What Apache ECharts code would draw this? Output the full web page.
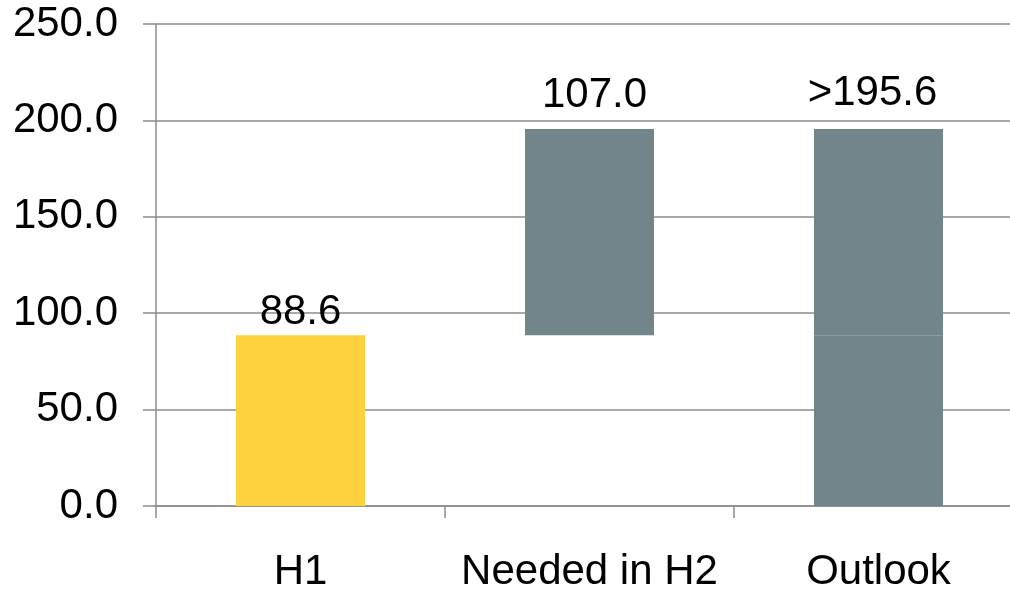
<!DOCTYPE html>
<html>
<head>
<meta charset="utf-8">
<script src="https://cdn.jsdelivr.net/npm/echarts@6/dist/echarts.min.js"></script>
<style>
  html, body { margin: 0; padding: 0; background: #ffffff; }
  #chart { width: 1010px; height: 590px; }
</style>
</head>
<body>
<div id="chart"></div>
<script>
// Waterfall: H1 result, amount still needed in H2, and the full-year outlook
const categories = ['H1', 'Needed in H2', 'Outlook'];
const baseValues = [88.6, 88.6, 88.6];     // lower segment of each column
const topValues = [null, 107.0, 107.0];    // upper segment stacked on the base
const valueLabels = ['88.6', '107.0', '>195.6'];
const yTicks = { min: 0, max: 250, interval: 50 };

const FONT = "'Liberation Sans', Arial, sans-serif";
const YELLOW = '#FED13F';
const GREY = '#728589';
const LINE = '#8c8c8c';

const chart = echarts.init(document.getElementById('chart'), null, { renderer: 'canvas' });

const labelStyle = {
  show: true,
  position: 'top',
  color: '#000',
  fontFamily: FONT,
  fontSize: 42
};
// small horizontal nudges of the value labels above the grey columns
const labelShift = [0, 5, -6];

chart.setOption({
  animation: false,
  backgroundColor: '#ffffff',
  // the last category runs slightly past the right edge of the canvas
  grid: { left: 156, right: -13, top: 24, bottom: 84, outerBoundsMode: 'none', containLabel: false },
  xAxis: {
    type: 'category',
    data: categories,
    boundaryGap: true,
    axisLine: { show: true, lineStyle: { color: LINE, width: 1.5 } },
    axisTick: { show: true, length: 12, inside: false, lineStyle: { color: LINE, width: 1.5 } },
    axisLabel: { interval: 0, color: '#000', fontFamily: FONT, fontSize: 42, margin: 45 },
    splitLine: { show: false }
  },
  yAxis: {
    type: 'value',
    min: yTicks.min,
    max: yTicks.max,
    interval: yTicks.interval,
    axisLine: { show: true, lineStyle: { color: LINE, width: 1.5 } },
    axisTick: { show: true, length: 13, lineStyle: { color: LINE, width: 1.5 } },
    axisLabel: {
      color: '#000', fontFamily: FONT, fontSize: 42, margin: 38,
      formatter: v => v.toFixed(1)
    },
    splitLine: { show: true, lineStyle: { color: LINE, width: 1.5 } }
  },
  series: [
    {
      name: 'base',
      type: 'bar',
      stack: 'total',
      barWidth: 129,
      data: baseValues.map((v, i) => ({
        value: v,
        itemStyle: { color: i === 0 ? YELLOW : (i === 1 ? 'transparent' : GREY) },
        label: i === 0
          ? Object.assign({}, labelStyle, { distance: 2, formatter: valueLabels[0] })
          : { show: false }
      }))
    },
    {
      name: 'top',
      type: 'bar',
      stack: 'total',
      barWidth: 129,
      itemStyle: { color: GREY },
      data: topValues.map((v, i) => ({
        value: v,
        label: v == null
          ? { show: false }
          : Object.assign({}, labelStyle, {
              distance: i === 1 ? 12 : 14,
              offset: [labelShift[i], 0],
              formatter: valueLabels[i]
            })
      }))
    }
  ]
});
</script>
</body>
</html>
